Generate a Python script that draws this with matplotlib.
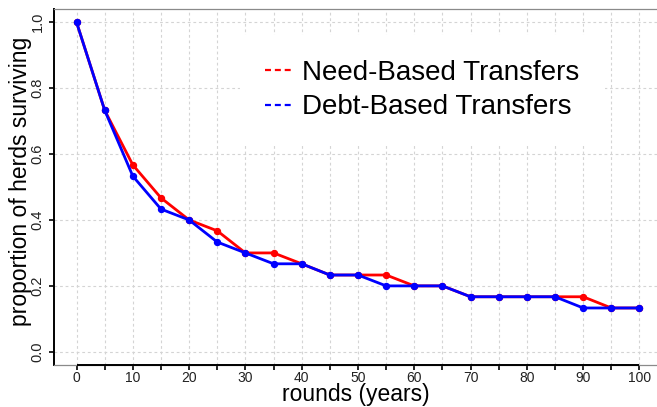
import matplotlib
matplotlib.use("Agg")
import matplotlib.pyplot as plt
from matplotlib.lines import Line2D

rounds = [0, 5, 10, 15, 20, 25, 30, 35, 40, 45, 50, 55, 60, 65, 70, 75, 80, 85, 90, 95, 100]
need_based = [1.0, 0.733, 0.567, 0.467, 0.4, 0.367, 0.3, 0.3, 0.267, 0.233, 0.233, 0.233,
              0.2, 0.2, 0.167, 0.167, 0.167, 0.167, 0.167, 0.133, 0.133]
debt_based = [1.0, 0.733, 0.533, 0.433, 0.4, 0.333, 0.3, 0.267, 0.267, 0.233, 0.233, 0.2,
              0.2, 0.2, 0.167, 0.167, 0.167, 0.167, 0.133, 0.133, 0.133]
series_labels = ["Need-Based Transfers", "Debt-Based Transfers"]
x_ticks = list(range(0, 101, 10))
y_ticks = [0.0, 0.2, 0.4, 0.6, 0.8, 1.0]

plt.rcParams['font.family'] = ['Liberation Sans', 'DejaVu Sans']
plt.rcParams['lines.scale_dashes'] = False

W, H = 657, 407
fig = plt.figure(figsize=(W / 100, H / 100), dpi=100)
ax = fig.add_axes([54 / W, (H - 365) / H, 608 / W, 356 / H])

ax.set_xlim(-4, 104)
ax.set_ylim(-0.04, 1.04)

# grid
for xv in range(0, 101, 5):
    ax.axvline(xv, color='#d4d4d4', lw=0.8, ls=(0, (2, 2)), zorder=0)
for yv in y_ticks:
    ax.axhline(yv, color='#d4d4d4', lw=0.8, ls=(0, (2, 2)), zorder=0)

ax.plot(rounds, need_based, color='#ff0000', lw=2.0, marker='o', ms=4.3, zorder=3)
ax.plot(rounds, debt_based, color='#0000ff', lw=2.0, marker='o', ms=4.3, zorder=4)

for s in ['top', 'bottom', 'right']:
    ax.spines[s].set_color('#8a8a8a')
    ax.spines[s].set_linewidth(0.9)
ax.spines['left'].set_color('black')
ax.spines['left'].set_linewidth(1.4)
ax.hlines(-0.04, rounds[0], rounds[-1], color='black', lw=1.4, clip_on=False, zorder=5)

ax.set_xticks(x_ticks)
ax.set_xticks(list(range(0, 101, 5)), minor=True)
ax.set_yticks(y_ticks)
ax.set_yticklabels([f"{v:.1f}" for v in y_ticks], rotation=90, va='center')
ax.tick_params(axis='x', which='both', direction='out', length=3.6, width=1.2, color='black',
               labelsize=10, labelcolor='#222222', pad=1.0)
ax.tick_params(axis='x', which='minor', labelbottom=False)
ax.tick_params(axis='y', direction='out', length=3.6, width=1.2, color='black',
               labelsize=10.5, labelcolor='#222222', pad=3.0)

fig.text(356 / W, 1 - 401 / H, "rounds (years)", fontsize=16.5, ha='center', va='baseline')
fig.text(21 / W, 1 - 181 / H, "proportion of herds surviving", fontsize=16.5,
         ha='center', va='center', rotation=90)

handles = [Line2D([], [], color='#ff0000', lw=1.6, dashes=(4.3, 2.8)),
           Line2D([], [], color='#0000ff', lw=1.6, dashes=(4.3, 2.8))]
leg = ax.legend(handles, series_labels, loc='upper left',
                bbox_to_anchor=((240 - 54) / 608, 1 - 26 / 356),
                fontsize=20, frameon=True, fancybox=False, handlelength=1.0, handletextpad=0.35,
                borderpad=0.9, labelspacing=0.3, borderaxespad=0)
leg.get_frame().set_facecolor('white')
leg.get_frame().set_edgecolor('none')
leg.get_frame().set_alpha(1)
leg.set_zorder(6)

fig.savefig("out.png", dpi=100)
